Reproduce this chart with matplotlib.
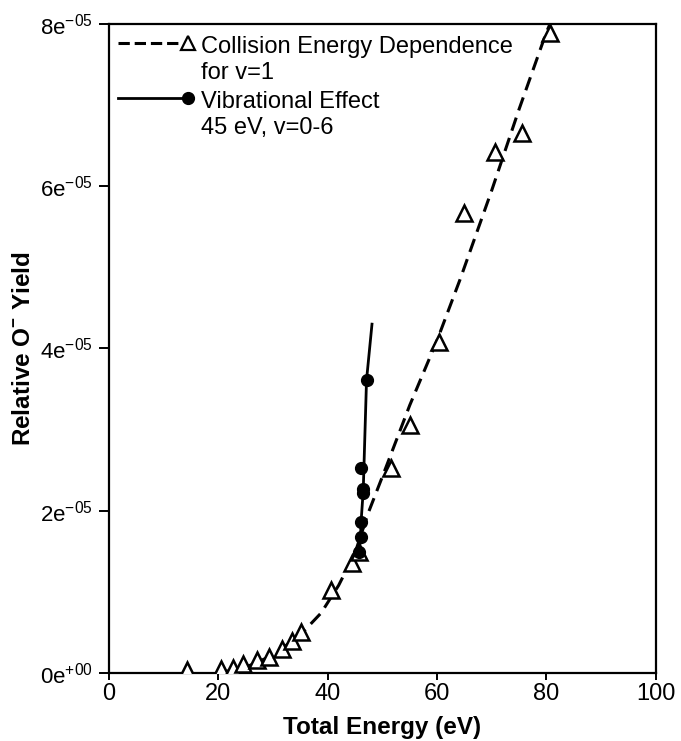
import matplotlib
matplotlib.use("Agg")
import matplotlib.pyplot as plt
from matplotlib.lines import Line2D
from matplotlib.legend_handler import HandlerBase
from matplotlib.ticker import FixedLocator

plt.rcParams['font.family'] = ['Liberation Sans', 'DejaVu Sans']
plt.rcParams['mathtext.fontset'] = 'custom'
plt.rcParams['mathtext.rm'] = 'Liberation Sans'

# Collision energy dependence (v=1): triangles
coll_x = [14.3, 20.4, 22.6, 24.6, 27.0, 29.2, 31.6, 33.5, 35.1, 40.6, 44.5, 45.8,
          51.6, 55.0, 60.3, 64.9, 70.6, 75.6, 80.7]
coll_y = [0.04, 0.05, 0.06, 0.11, 0.16, 0.20, 0.30, 0.40, 0.50, 1.02, 1.36, 1.49,
          2.53, 3.06, 4.08, 5.67, 6.42, 6.66, 7.89]
# Fitted dashed curve
fit_x = [20, 25, 30, 35, 38.8, 42, 45, 47.4, 50, 55, 60, 64.2, 70, 75, 80, 81.3]
fit_y = [0.0, 0.07, 0.22, 0.47, 0.74, 1.08, 1.48, 1.97, 2.42, 3.3, 4.1, 4.85, 5.95, 6.95, 7.9, 8.1]
# Vibrational effect, 45 eV, v=0-6: filled circles
vib_x = [45.8, 46.0, 46.1, 46.5, 46.5, 46.1, 47.1]
vib_y = [1.49, 1.68, 1.86, 2.22, 2.27, 2.53, 3.61]
vib_line_x = [45.8, 46.0, 46.1, 46.5, 47.1, 48.1]
vib_line_y = [1.49, 1.68, 1.86, 2.25, 3.61, 4.3]
scale = 1e-5

x_ticks = [0, 20, 40, 60, 80, 100]
y_ticks = [0, 2e-5, 4e-5, 6e-5, 8e-5]
y_tick_labels = ["0e$^{\\mathregular{+00}}$", "2e$^{\\mathregular{-05}}$", "4e$^{\\mathregular{-05}}$",
                 "6e$^{\\mathregular{-05}}$", "8e$^{\\mathregular{-05}}$"]
legend_labels = ["Collision Energy Dependence\nfor v=1", "Vibrational Effect\n45 eV, v=0-6"]


class RightMarkerHandler(HandlerBase):
    def __init__(self, yshift=0.0, **kw):
        super().__init__(**kw)
        self.yshift = yshift

    def create_artists(self, legend, orig_handle, xdescent, ydescent, width, height,
                       fontsize, trans):
        y = height / 2.0 - ydescent + self.yshift * fontsize
        xr = width - xdescent
        line = Line2D([-xdescent, xr - 0.3 * fontsize], [y, y],
                      color=orig_handle.get_color(), lw=orig_handle.get_linewidth(),
                      ls=orig_handle.get_linestyle())
        marker = Line2D([xr], [y], ls='none', marker=orig_handle.get_marker(),
                        ms=orig_handle.get_markersize(), mfc=orig_handle.get_markerfacecolor(),
                        mec=orig_handle.get_markeredgecolor(), mew=orig_handle.get_markeredgewidth())
        line.set_transform(trans)
        marker.set_transform(trans)
        return [line, marker]


fig = plt.figure(figsize=(6.81, 7.41), dpi=100)
ax = fig.add_axes([0.160, 0.0918, 0.803, 0.8758])

dash = (0, (4.5, 2.5))
ax.plot(fit_x, [v * scale for v in fit_y], color='black', lw=2.2, ls=dash, zorder=2)
ax.plot(coll_x, [v * scale for v in coll_y], ls='none', marker='^', ms=11, mfc='white',
        mec='black', mew=1.8, zorder=3)
ax.plot(vib_line_x, [v * scale for v in vib_line_y], color='black', lw=2, zorder=4)
ax.plot(vib_x, [v * scale for v in vib_y], ls='none', marker='o', ms=8.5, color='black', zorder=5)

ax.set_xlim(0, 100)
ax.set_ylim(0, 8e-5)
ax.xaxis.set_major_locator(FixedLocator(x_ticks))
ax.yaxis.set_major_locator(FixedLocator(y_ticks))
ax.set_xticklabels([str(t) for t in x_ticks])
ax.set_yticklabels(y_tick_labels)
ax.tick_params(axis='x', direction='out', length=5, width=1.4, labelsize=17, pad=2)
ax.tick_params(axis='y', direction='out', length=7, width=1.4, labelsize=16, pad=5)
for s in ax.spines.values():
    s.set_linewidth(1.6)

ax.set_xlabel("Total Energy (eV)", fontsize=17.5, fontweight='bold', labelpad=8)
ax.set_ylabel("Relative O$^{\\mathregular{-}}$ Yield", fontsize=17.5, fontweight='bold')
ax.yaxis.set_label_coords(-0.135, 0.5)

h1 = Line2D([0, 1], [0, 1], color='black', lw=2.2, ls=(0, (3.5, 2)), marker='^', ms=10,
            mfc='white', mec='black', mew=1.6)
h2 = Line2D([0, 1], [0, 1], color='black', lw=2, ls='-', marker='o', ms=8.5, mfc='black',
            mec='black', mew=1)
leg = ax.legend([h1, h2], legend_labels,
                loc='upper left', bbox_to_anchor=(-0.009, 1.003), frameon=False, fontsize=17,
                numpoints=1, handlelength=2.95, handletextpad=0.55, labelspacing=0.33,
                borderaxespad=0.2,
                handler_map={h1: RightMarkerHandler(yshift=0.72), h2: RightMarkerHandler(yshift=0.72)})
for t in leg.get_texts():
    t.set_linespacing(1.2)

fig.savefig("out.png", dpi=100)
